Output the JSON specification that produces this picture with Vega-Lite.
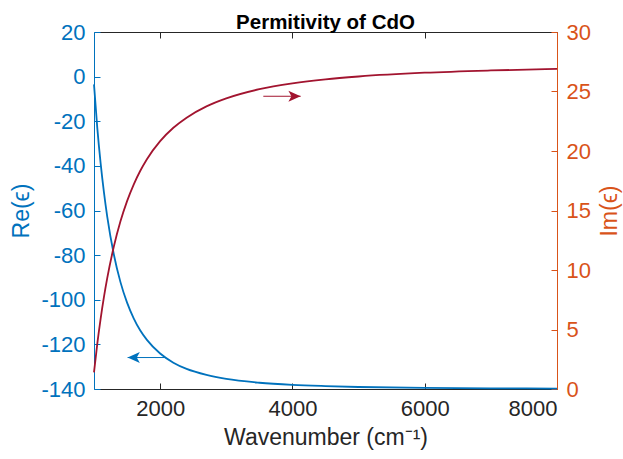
{
  "$schema": "https://vega.github.io/schema/vega-lite/v6.json",
  "autosize": "none",
  "padding": {"left": 94, "top": 32, "right": 66, "bottom": 70},
  "width": 463,
  "height": 357,
  "background": "white",
  "config": {
    "view": {"stroke": null},
    "font": "Liberation Sans",
    "axis": {"grid": false, "labelFont": "Liberation Sans", "titleFont": "Liberation Sans", "labelFontSize": 22, "titleFontSize": 23, "titleFontWeight": "normal", "tickSize": -6, "domainWidth": 1, "tickWidth": 1,
      "labelExpr": "replace(datum.label, '−', '-')"}
  },
  "title": {"text": "Permitivity of CdO", "fontSize": 20.5, "fontWeight": "bold", "font": "Liberation Sans", "color": "#000000", "offset": 3, "dy": 15},
  "datasets": {
    "re": [
      {"k": 1000, "v": -3.5}, {"k": 1050, "v": -23.1}, {"k": 1100, "v": -38.8}, {"k": 1150, "v": -51.8},
      {"k": 1200, "v": -62.7}, {"k": 1300, "v": -79.7}, {"k": 1400, "v": -92.1}, {"k": 1500, "v": -101.3},
      {"k": 1600, "v": -108.3}, {"k": 1700, "v": -113.8}, {"k": 1800, "v": -118.0}, {"k": 2000, "v": -124.1},
      {"k": 2200, "v": -128.2}, {"k": 2400, "v": -131.0}, {"k": 2700, "v": -133.7}, {"k": 3000, "v": -135.5},
      {"k": 3500, "v": -137.2}, {"k": 4000, "v": -138.15}, {"k": 4500, "v": -138.7}, {"k": 5000, "v": -139.1},
      {"k": 6000, "v": -139.5}, {"k": 7000, "v": -139.7}, {"k": 8000, "v": -139.8}
    ],
    "im": [
      {"k": 1000, "v": 1.4}, {"k": 1050, "v": 3.81}, {"k": 1100, "v": 5.9}, {"k": 1150, "v": 7.72},
      {"k": 1200, "v": 9.31}, {"k": 1300, "v": 11.97}, {"k": 1400, "v": 14.09}, {"k": 1500, "v": 15.79},
      {"k": 1600, "v": 17.18}, {"k": 1700, "v": 18.34}, {"k": 1800, "v": 19.31}, {"k": 2000, "v": 20.83},
      {"k": 2200, "v": 21.95}, {"k": 2400, "v": 22.8}, {"k": 2700, "v": 23.75}, {"k": 3000, "v": 24.42},
      {"k": 3500, "v": 25.19}, {"k": 4000, "v": 25.68}, {"k": 4500, "v": 26.02}, {"k": 5000, "v": 26.26},
      {"k": 6000, "v": 26.58}, {"k": 7000, "v": 26.77}, {"k": 8000, "v": 26.9}
    ],
    "reArrow": [{"from": 2077, "to": 1508, "v": -125.9}],
    "imArrow": [{"from": 3560, "to": 4124, "v": 24.6}]
  },
  "resolve": {"scale": {"y": "independent"}, "axis": {"x": "independent", "y": "independent"}},
  "layer": [
    {
      "encoding": {
        "x": {"field": "k", "type": "quantitative", "scale": {"domain": [1000, 8000], "nice": false, "zero": false},
          "axis": {"orient": "bottom", "values": [2000, 4000, 6000, 8000], "title": "Wavenumber (cm⁻¹)", "format": "d",
            "domainColor": "#262626", "tickColor": "#262626", "labelColor": "#262626", "titleColor": "#262626", "labelPadding": 15, "titlePadding": 7}}
      },
      "layer": [
        {
          "data": {"name": "re"},
          "mark": {"type": "line", "color": "#0072BD", "strokeWidth": 1.8, "interpolate": "monotone"},
          "encoding": {
            "y": {"field": "v", "type": "quantitative", "scale": {"domain": [-140, 20], "nice": false, "zero": false},
              "axis": {"orient": "left", "values": [-140, -120, -100, -80, -60, -40, -20, 0, 20], "title": "Re(ϵ)",
                "domainColor": "#0072BD", "tickColor": "#0072BD", "labelColor": "#0072BD", "titleColor": "#0072BD", "labelPadding": 15, "titlePadding": 7}}
          }
        },
        {
          "data": {"name": "reArrow"},
          "mark": {"type": "rule", "color": "#0072BD", "strokeWidth": 1},
          "encoding": {"x": {"field": "from", "type": "quantitative"}, "x2": {"field": "to"}, "y": {"field": "v", "type": "quantitative"}}
        },
        {
          "data": {"name": "reArrow"},
          "mark": {"type": "point", "filled": true, "opacity": 1, "color": "#0072BD", "size": 150, "shape": "M0,0L2,-0.9L1.5,0L2,0.9Z"},
          "encoding": {"x": {"field": "to", "type": "quantitative"}, "y": {"field": "v", "type": "quantitative"}}
        }
      ]
    },
    {
      "encoding": {
        "x": {"field": "k", "type": "quantitative", "scale": {"domain": [1000, 8000], "nice": false, "zero": false},
          "axis": {"orient": "top", "values": [2000, 4000, 6000, 8000], "title": null, "labels": false,
            "domainColor": "#262626", "tickColor": "#262626"}}
      },
      "layer": [
        {
          "data": {"name": "im"},
          "mark": {"type": "line", "color": "#A2142F", "strokeWidth": 1.8, "interpolate": "monotone"},
          "encoding": {
            "y": {"field": "v", "type": "quantitative", "scale": {"domain": [0, 30], "nice": false},
              "axis": {"orient": "right", "values": [0, 5, 10, 15, 20, 25, 30], "title": "Im(ϵ)", "titleAngle": 270, "titleBaseline": "top",
                "domainColor": "#D95319", "tickColor": "#D95319", "labelColor": "#D95319", "titleColor": "#D95319", "labelPadding": 15, "titlePadding": 8}}
          }
        },
        {
          "data": {"name": "imArrow"},
          "mark": {"type": "rule", "color": "#A2142F", "strokeWidth": 1},
          "encoding": {"x": {"field": "from", "type": "quantitative"}, "x2": {"field": "to"}, "y": {"field": "v", "type": "quantitative"}}
        },
        {
          "data": {"name": "imArrow"},
          "mark": {"type": "point", "filled": true, "opacity": 1, "color": "#A2142F", "size": 150, "shape": "M0,0L-2,-0.9L-1.5,0L-2,0.9Z"},
          "encoding": {"x": {"field": "to", "type": "quantitative"}, "y": {"field": "v", "type": "quantitative"}}
        }
      ]
    }
  ]
}
